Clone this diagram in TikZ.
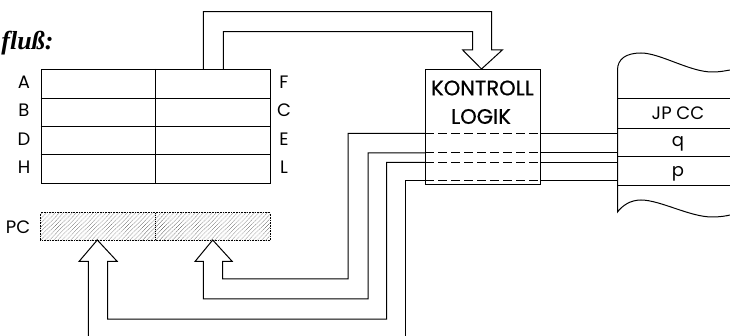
\documentclass[tikz,border=0pt]{standalone}
\usepackage{fontspec}
\setsansfont{Poppins}
\newfontfamily\titlefont{Liberation Serif}
\newfontfamily\ctlfont[FakeBold=0.6]{Poppins}
\usetikzlibrary{patterns.meta}
\begin{document}
\begin{tikzpicture}[x=1pt,y=-1pt,line width=1pt,line join=miter,
  lbl/.style={font=\sffamily\fontsize{18}{18}\selectfont,inner sep=0pt},
  ctl/.style={font=\ctlfont\fontsize{21}{21}\selectfont,inner sep=0pt},
  bus/.style={line width=1pt},
  sig/.style={line width=1pt},
  insig/.style={line width=1pt,dash pattern=on 9pt off 4pt}]
\useasboundingbox (0,0) rectangle (730,336);

% title fragment
\node[anchor=base west,inner sep=0pt,font=\titlefont\bfseries\itshape\fontsize{26}{26}\selectfont] (title) at (1,50) {fluß:};

% register file
\node[draw,minimum width=229.3pt,minimum height=114pt,anchor=north west,inner sep=0pt] (regs) at (40.7,69) {};
\draw (155.7,69) -- (155.7,183);
\foreach \yy in {98.7,126.7,154.3}{\draw (40.7,\yy) -- (270,\yy);}
\node[lbl] (lA) at (24,82) {A};
\node[lbl] (lB) at (24,110.5) {B};
\node[lbl] (lD) at (24,139) {D};
\node[lbl] (lH) at (24,167.5) {H};
\node[lbl] (lF) at (284,82) {F};
\node[lbl] (lC) at (284,110.5) {C};
\node[lbl] (lE) at (284,139) {E};
\node[lbl] (lL) at (284,167.5) {L};

% PC register
\node[draw,densely dotted,pattern={Lines[angle=45,distance=3pt,line width=0.6pt]},pattern color=black!65,minimum width=230pt,minimum height=27.3pt,anchor=north west,inner sep=0pt] (pc) at (40,212.7) {};
\draw[densely dotted] (155.7,212.7) -- (155.7,240);
\node[lbl] (lPC) at (18,227) {PC};

% control logic
\node[draw,minimum width=115pt,minimum height=115pt,anchor=north west,inner sep=0pt] (ctrl) at (425,69.5) {};
\node[ctl] (k1) at (482.5,88) {KONTROLL};
\node[ctl] (k2) at (481,116.5) {LOGIK};
\foreach \yy in {133.3,153,162.5,180.5}{
  \draw[insig] (425,\yy) -- (540,\yy);
  \draw[sig] (540,\yy) -- (617.5,\yy);
}

% memory
\coordinate (mtl) at (617.5,70);
\coordinate (mbl) at (617.5,212);
\draw (730,70) .. controls (724,71) and (720,72) .. (712,72)
  .. controls (690,72) and (660,53) .. (641,53)
  .. controls (626,53) and (617.5,59) .. (mtl) -- (mbl)
  .. controls (622,206) and (630,200) .. (641,200)
  .. controls (660,200) and (690,217) .. (712,217)
  .. controls (720,217) and (726,216) .. (730,215);
\foreach \yy in {99,128.3,156.7,185.7}{\draw (617.5,\yy) -- (730,\yy);}
\node[lbl] (m1) at (678,113.5) {JP CC};
\node[lbl] (m2) at (678,144) {q};
\node[lbl] (m3) at (678,173.5) {p};

% top bus arrow: registers -> control logic
\draw[bus] (203.3,69) -- (203.3,11.7) -- (491.7,11.7) -- (491.7,50) -- (502.3,50)
  -- (481.5,69) -- (462.7,50) -- (472.7,50) -- (472.7,31.7) -- (223.3,31.7) -- (223.3,69);

% bus arrow into right half of PC
\draw[bus] (425,153) -- (368,153) -- (368,299) -- (203.3,299) -- (203.3,261.5) -- (195,261.5)
  -- (212.7,240) -- (232.3,261.5) -- (222.7,261.5) -- (222.7,279) -- (348,279) -- (348,133.3) -- (425,133.3);

% bus arrow into left half of PC
\draw[bus] (88.3,336) -- (88.3,261.5) -- (79,261.5) -- (97.3,240) -- (117.3,261.5)
  -- (107.7,261.5) -- (107.7,319) -- (386.7,319) -- (386.7,162.5) -- (425,162.5);
\draw[bus] (405.7,336) -- (405.7,180.5) -- (425,180.5);
\end{tikzpicture}
\end{document}
